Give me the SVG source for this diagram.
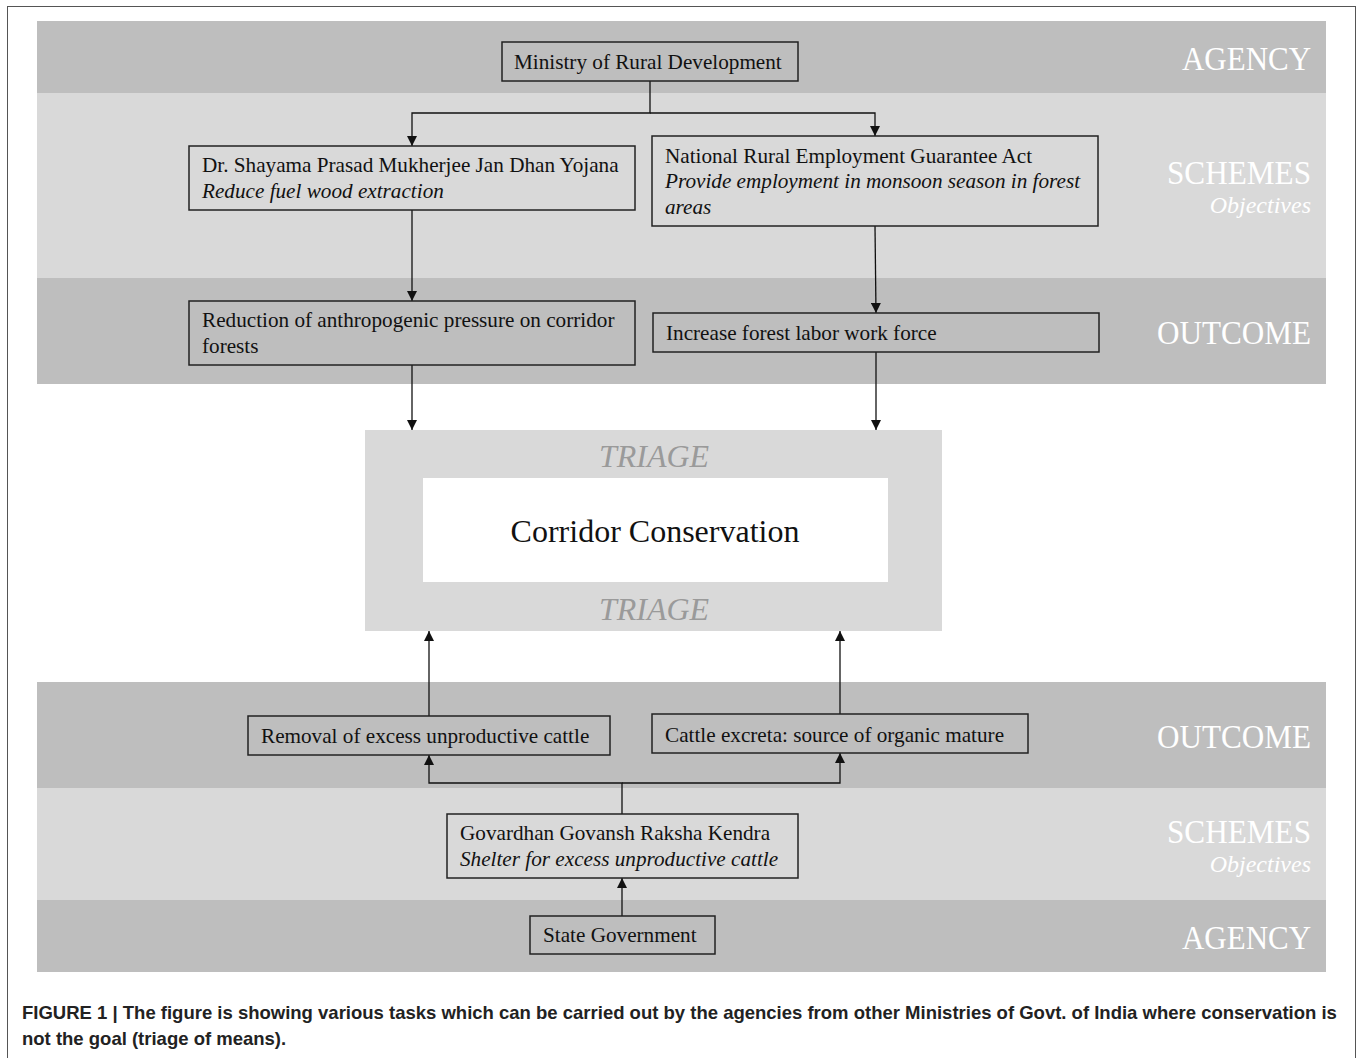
<svg xmlns="http://www.w3.org/2000/svg" width="1358" height="1058" viewBox="0 0 1358 1058">
<style>
.bd{fill:#bebebe}
.bl{fill:#d9d9d9}
.box{fill:none;stroke:#222;stroke-width:1.5}
.t{font-family:"Liberation Serif",serif;font-size:21.2px;fill:#111}
.i{font-style:italic}
.lab{font-family:"Liberation Serif",serif;font-size:34px;fill:#fff;text-anchor:end}
.obj{font-family:"Liberation Serif",serif;font-size:24px;font-style:italic;fill:#fff;text-anchor:end}
.tri{font-family:"Liberation Serif",serif;font-size:32px;font-style:italic;fill:#9a9a9a;text-anchor:middle}
.cap{font-family:"Liberation Sans",sans-serif;font-size:18.5px;font-weight:bold;fill:#222}
.c{fill:none;stroke:#111;stroke-width:1.3}
</style>
<defs>
<marker id="ah" viewBox="0 0 10 10" refX="10" refY="5" markerWidth="10" markerHeight="10" markerUnits="userSpaceOnUse" orient="auto">
<path d="M0,0 L10,5 L0,10 z" fill="#111"/>
</marker>
</defs>
<rect x="0" y="0" width="1358" height="1058" fill="#fff"/>
<rect x="7.5" y="6.5" width="1348" height="1060" fill="none" stroke="#555" stroke-width="1"/>
<g id="bands">
<rect class="bd" x="37" y="21" width="1289" height="72"/>
<rect class="bl" x="37" y="93" width="1289" height="185"/>
<rect class="bd" x="37" y="278" width="1289" height="106"/>
<rect class="bd" x="37" y="682" width="1289" height="106"/>
<rect class="bl" x="37" y="788" width="1289" height="112"/>
<rect class="bd" x="37" y="900" width="1289" height="72"/>
<text class="lab" x="1311" y="70" textLength="129" lengthAdjust="spacingAndGlyphs">AGENCY</text>
<text class="lab" x="1311" y="184" textLength="144" lengthAdjust="spacingAndGlyphs">SCHEMES</text>
<text class="obj" x="1311" y="213">Objectives</text>
<text class="lab" x="1311" y="344" textLength="154" lengthAdjust="spacingAndGlyphs">OUTCOME</text>
<text class="lab" x="1311" y="748" textLength="154" lengthAdjust="spacingAndGlyphs">OUTCOME</text>
<text class="lab" x="1311" y="843" textLength="144" lengthAdjust="spacingAndGlyphs">SCHEMES</text>
<text class="obj" x="1311" y="872">Objectives</text>
<text class="lab" x="1311" y="949" textLength="129" lengthAdjust="spacingAndGlyphs">AGENCY</text>
</g>
<g id="triage">
<rect x="365" y="430" width="577" height="201" fill="#d9d9d9"/>
<rect x="423" y="478" width="465" height="104" fill="#fff"/>
<text class="tri" x="654" y="467">TRIAGE</text>
<text class="tri" x="654" y="620">TRIAGE</text>
<text x="655" y="542" font-family="Liberation Serif,serif" font-size="32" fill="#111" text-anchor="middle">Corridor Conservation</text>
</g>
<g id="connectors">
<path class="c" d="M650,81 V113 H412 V146" marker-end="url(#ah)"/>
<path class="c" d="M650,113 H875 V136" marker-end="url(#ah)"/>
<path class="c" d="M412,210 V301" marker-end="url(#ah)"/>
<path class="c" d="M875,226 L876,313" marker-end="url(#ah)"/>
<path class="c" d="M412,365 V430" marker-end="url(#ah)"/>
<path class="c" d="M876,352 V430" marker-end="url(#ah)"/>
<path class="c" d="M429,716 V631" marker-end="url(#ah)"/>
<path class="c" d="M840,714 V631" marker-end="url(#ah)"/>
<path class="c" d="M622,814 V783 H429 V755" marker-end="url(#ah)"/>
<path class="c" d="M622,783 H840 V753" marker-end="url(#ah)"/>
<path class="c" d="M622,916 V878" marker-end="url(#ah)"/>
</g>
<g id="ministry">
<rect class="box" x="502" y="42" width="296" height="39"/>
<text class="t" x="514" y="69">Ministry of Rural Development</text>
</g>
<g id="jandhan">
<rect class="box" x="189" y="146" width="446" height="64"/>
<text class="t" x="202" y="172">Dr. Shayama Prasad Mukherjee Jan Dhan Yojana</text>
<text class="t i" x="202" y="198">Reduce fuel wood extraction</text>
</g>
<g id="nrega">
<rect class="box" x="652" y="136" width="446" height="90"/>
<text class="t" x="665" y="163">National Rural Employment Guarantee Act</text>
<text class="t i" x="665" y="188">Provide employment in monsoon season in forest</text>
<text class="t i" x="665" y="214">areas</text>
</g>
<g id="reduction">
<rect class="box" x="189" y="301" width="446" height="64"/>
<text class="t" x="202" y="327">Reduction of anthropogenic pressure on corridor</text>
<text class="t" x="202" y="353">forests</text>
</g>
<g id="increase">
<rect class="box" x="653" y="313" width="446" height="39"/>
<text class="t" x="666" y="340">Increase forest labor work force</text>
</g>
<g id="removal">
<rect class="box" x="248" y="716" width="362" height="39"/>
<text class="t" x="261" y="743">Removal of excess unproductive cattle</text>
</g>
<g id="excreta">
<rect class="box" x="652" y="714" width="376" height="39"/>
<text class="t" x="665" y="742">Cattle excreta: source of organic mature</text>
</g>
<g id="govardhan">
<rect class="box" x="447" y="814" width="351" height="64"/>
<text class="t" x="460" y="840">Govardhan Govansh Raksha Kendra</text>
<text class="t i" x="460" y="866">Shelter for excess unproductive cattle</text>
</g>
<g id="stategov">
<rect class="box" x="530" y="916" width="185" height="38"/>
<text class="t" x="543" y="942">State Government</text>
</g>
<g id="caption">
<text class="cap" x="22" y="1019">FIGURE 1 | The figure is showing various tasks which can be carried out by the agencies from other Ministries of Govt. of India where conservation is</text>
<text class="cap" x="22" y="1045">not the goal (triage of means).</text>
</g>
</svg>
